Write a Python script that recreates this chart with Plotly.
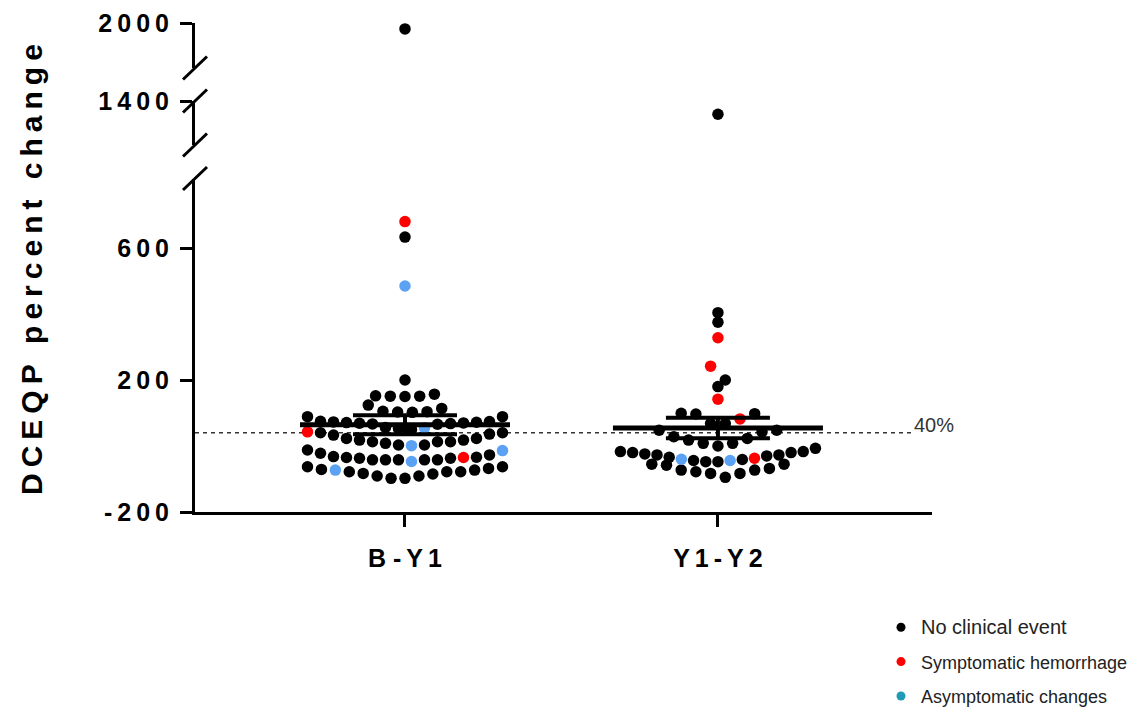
import numpy as np
import plotly.graph_objects as go

# ---------------- data ----------------
groups = ["B -Y1", "Y1-Y2"]
event_types = ["No clinical event", "Symptomatic hemorrhage", "Asymptomatic changes"]

# DCEQP percent change, B -Y1
b_y1_hemorrhage = [680, 43, -35]
b_y1_asymptomatic = [485, 55, 1, -47, -14, -73]
b_y1_no_event = [1982, 633, 200,
                 150, 151, 151, 152, 157,
                 102, 103, 104, 105, 114, 124,
                 89, 89, 75, 74, 73, 72, 71, 70, 69, 68, 67, 66, 50, 52, 56,
                 40, 40, 36, 33, 23, 23, 18, 18, 13, 13, 13, 8, 3, 3,
                 -12, -22, -27, -32, -34, -35, -37, -37, -42, -42, -42, -42, -42,
                 -63, -63, -68, -71, -73, -78, -78, -78, -83, -85, -91, -91, -98, -98]

# DCEQP percent change, Y1-Y2
y1_y2_hemorrhage = [328, 242, 142, 82, -37]
y1_y2_asymptomatic = [-44, -40]
y1_y2_no_event = [1360, 404, 375, 200, 180, 99, 98, 97, 68, 68,
                  48, 48, 43, 28, 23, 18, 8, 8, 0,
                  -7, -17, -17, -20, -20, -24, -27, -27, -30, -34, -41, -44, -47.5, -47.5,
                  -55, -55, -58, -68, -73, -73, -78, -83, -83, -95]

y_ticks_bottom = [-200, 200, 600]
y_ticks_middle = [1400]
y_ticks_top = [2000]
threshold_value = 40
threshold_label = "40%"

# ---------------- layout constants (pixels) ----------------
W, H = 1130, 711
M_L, M_R, M_T, M_B = 195, 198, 20, 199
PLOT_W = W - M_L - M_R
PLOT_H = H - M_T - M_B
PX_PER_UNIT = 0.33          # vertical scale shared by all three axis segments
X_RANGE = [0.329, 2.684]
PX_PER_X = PLOT_W / (X_RANGE[1] - X_RANGE[0])
DOT_SPACING = 14.7          # preferred horizontal distance between dots (px)
ROW_MAX_WIDTH = 195         # widest a row of dots may spread (px)
ROW_HEIGHT = 50             # value band grouped into one row of dots

bottom_px = M_T + PLOT_H    # screen y of the x axis


def frac(py):
    return (bottom_px - py) / PLOT_H


# segments: (screen y of top end, screen y of bottom end)
seg_bottom = (178.5, bottom_px)
seg_middle = (101, 145)
seg_top = (23, 68)

range_bottom = [-200, -200 + (seg_bottom[1] - seg_bottom[0]) / PX_PER_UNIT]
range_middle = [1400 - (seg_middle[1] - seg_middle[0]) / PX_PER_UNIT, 1400]
range_top = [2000 - (seg_top[1] - seg_top[0]) / PX_PER_UNIT, 2000]

FONT = "Liberation Sans, Arial, Helvetica, sans-serif"
COLORS = {"No clinical event": "#000000",
          "Symptomatic hemorrhage": "#ff0000",
          "Asymptomatic changes": "#5ba2f5"}
LEGEND_COLORS = {"No clinical event": "#000000",
                 "Symptomatic hemorrhage": "#ff0000",
                 "Asymptomatic changes": "#1f9bb5"}


def spaced(text, gap="\u2009", keep_word_gap=False):
    """Letter-spaced label: a thin space between characters."""
    out = gap.join(text)
    if not keep_word_gap:
        out = out.replace(gap + " " + gap, " ")
    return out


def swarm_offsets(values):
    """Prism-style row layout: values are grouped into bands, each band is
    spread sideways with the lowest values nearest the centre."""
    values = np.asarray(values, float)
    order = np.argsort(values, kind="stable")
    rows = np.floor(values / ROW_HEIGHT)
    offsets = np.zeros(len(values))
    for r in np.unique(rows):
        idx = [i for i in order if rows[i] == r]
        n = len(idx)
        spacing = DOT_SPACING if n < 2 else min(DOT_SPACING, ROW_MAX_WIDTH / (n - 1))
        for k, i in enumerate(idx):
            if n % 2:
                step = (k + 1) // 2
                sign = -1 if k % 2 else 1
            else:
                step = k // 2 + 0.5
                sign = 1 if k % 2 == 0 else -1
            offsets[i] = sign * step * spacing
    return offsets / PX_PER_X


def axis_for(v):
    if v >= range_top[0]:
        return "y3"
    if v >= range_middle[0]:
        return "y2"
    return "y"


group_data = {
    "B -Y1": {"Symptomatic hemorrhage": b_y1_hemorrhage,
              "Asymptomatic changes": b_y1_asymptomatic,
              "No clinical event": b_y1_no_event},
    "Y1-Y2": {"Symptomatic hemorrhage": y1_y2_hemorrhage,
              "Asymptomatic changes": y1_y2_asymptomatic,
              "No clinical event": y1_y2_no_event},
}

fig = go.Figure()

stats = {}
for gi, g in enumerate(groups):
    center = gi + 1
    order_types = ["Symptomatic hemorrhage", "Asymptomatic changes", "No clinical event"]
    vals, kinds = [], []
    for t in order_types:
        vals += list(group_data[g][t])
        kinds += [t] * len(group_data[g][t])
    vals = np.array(vals, float)
    kinds = np.array(kinds)
    xs = center + swarm_offsets(vals)
    axes = np.array([axis_for(v) for v in vals])
    for t in ["No clinical event", "Asymptomatic changes", "Symptomatic hemorrhage"]:
        for ax in ["y", "y2", "y3"]:
            m = (kinds == t) & (axes == ax)
            if not m.any():
                continue
            fig.add_trace(go.Scatter(
                x=xs[m], y=vals[m], yaxis=ax, mode="markers",
                marker=dict(size=11.5, color=COLORS[t], line=dict(width=0)),
                showlegend=False, hoverinfo="y"))
    stats[g] = (center, vals.mean(), vals.std(ddof=1) / np.sqrt(len(vals)))

# mean +/- SEM
MEAN_HALF = 105 / PX_PER_X
SEM_HALF = 52 / PX_PER_X
for g in groups:
    c, mu, se = stats[g]
    fig.add_trace(go.Scatter(
        x=[c - SEM_HALF, c + SEM_HALF, None, c - SEM_HALF, c + SEM_HALF, None, c, c],
        y=[mu + se, mu + se, None, mu - se, mu - se, None, mu - se, mu + se],
        mode="lines", line=dict(color="black", width=4), showlegend=False, hoverinfo="skip"))
    fig.add_trace(go.Scatter(
        x=[c - MEAN_HALF, c + MEAN_HALF], y=[mu, mu],
        mode="lines", line=dict(color="black", width=5), showlegend=False, hoverinfo="skip"))

# legend entries
legend_names = {"No clinical event": "<span style='font-size:20px'>No clinical event</span>",
                "Symptomatic hemorrhage": "Symptomatic hemorrhage",
                "Asymptomatic changes": "Asymptomatic changes"}
for t in event_types:
    fig.add_trace(go.Scatter(
        x=[None], y=[None], mode="markers", name=legend_names[t], legendgroup=t,
        marker=dict(size=9, color=LEGEND_COLORS[t])))

TICK_FONT = dict(family=FONT, size=25, color="black", weight="bold")
axis_common = dict(showline=True, linewidth=3, linecolor="black", ticks="outside",
                   ticklen=12, tickwidth=3, tickcolor="black", showgrid=False,
                   zeroline=False, anchor="x", tickfont=TICK_FONT,
                   ticklabelstandoff=6)

fig.update_layout(
    width=W, height=H,
    margin=dict(l=M_L, r=M_R, t=M_T, b=M_B, autoexpand=False),
    paper_bgcolor="white", plot_bgcolor="white",
    xaxis=dict(range=X_RANGE, showline=True, linewidth=3, linecolor="black",
               ticks="outside", ticklen=12, tickwidth=3, tickcolor="black",
               tickvals=[1, 2], ticktext=[spaced(g) for g in groups],
               tickfont=TICK_FONT, showgrid=False, zeroline=False,
               ticklabelstandoff=10),
    yaxis=dict(domain=[0, frac(seg_bottom[0])], range=range_bottom,
               tickvals=y_ticks_bottom, ticktext=[spaced(str(v)) for v in y_ticks_bottom],
               **axis_common),
    yaxis2=dict(domain=[frac(seg_middle[1]), frac(seg_middle[0])], range=range_middle,
                tickvals=y_ticks_middle, ticktext=[spaced(str(v)) for v in y_ticks_middle],
                **axis_common),
    yaxis3=dict(domain=[frac(seg_top[1]), frac(seg_top[0])], range=range_top,
                tickvals=y_ticks_top, ticktext=[spaced(str(v)) for v in y_ticks_top],
                **axis_common),
    legend=dict(x=(881 - M_L) / PLOT_W, y=frac(609), xanchor="left", yanchor="top",
                font=dict(family=FONT, size=18, color="#222222"),
                tracegroupgap=8, itemsizing="trace", bgcolor="rgba(0,0,0,0)"),
    showlegend=True,
)

# break marks on the y axis
shapes = []
for cy in [seg_top[1], seg_middle[0], seg_middle[1], seg_bottom[0]]:
    shapes.append(dict(type="line", xref="paper", yref="paper",
                       x0=-12 / PLOT_W, x1=12 / PLOT_W,
                       y0=frac(cy + 11.5), y1=frac(cy - 11.5),
                       line=dict(color="black", width=3)))
# threshold line
shapes.append(dict(type="line", xref="paper", yref="y",
                   x0=0, x1=(912 - M_L) / PLOT_W, y0=threshold_value, y1=threshold_value,
                   line=dict(color="#333333", width=1.5, dash="4px,4px"), layer="below"))
fig.update_layout(shapes=shapes)

fig.add_annotation(text=threshold_label, xref="paper", yref="y",
                   x=(912 - M_L) / PLOT_W, y=threshold_value, xanchor="left", yanchor="middle",
                   yshift=8, showarrow=False,
                   font=dict(family=FONT, size=20, color="#333333"))

fig.add_annotation(text=spaced("DCEQP percent change", keep_word_gap=True),
                   xref="paper", yref="paper",
                   x=(31 - M_L) / PLOT_W, y=frac(270), xanchor="center", yanchor="middle",
                   textangle=-90, showarrow=False,
                   font=dict(family=FONT, size=30, color="black", weight="bold"))

fig.write_html("out.html")
